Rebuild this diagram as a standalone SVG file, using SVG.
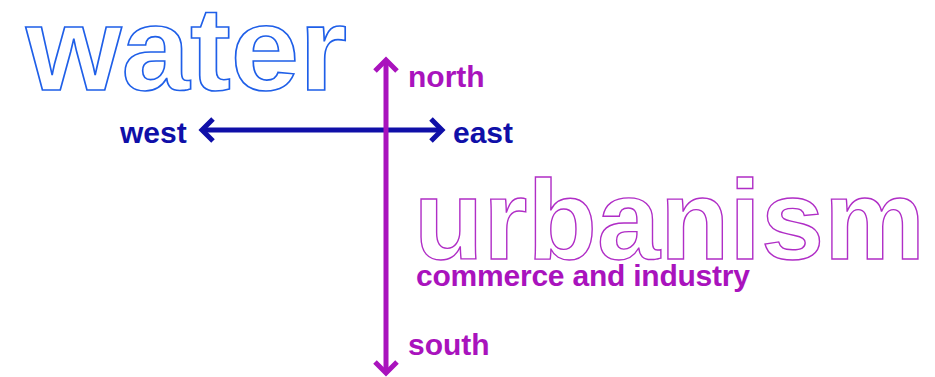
<svg xmlns="http://www.w3.org/2000/svg" width="935" height="377" viewBox="0 0 935 377">
<style>
.big{font-family:"Liberation Sans",Arial,sans-serif;font-weight:bold;fill:#fff}
.lbl{font-family:"Liberation Sans",Arial,sans-serif;font-weight:bold;font-size:30px}
.mag{fill:#a913bd}
.navy{fill:#0f0fa8}
.arrow{fill:none;stroke-width:5;stroke-linecap:butt;stroke-linejoin:miter}
</style>
<rect width="935" height="377" fill="#fff"/>
<g id="water"><text class="big" x="26" y="90" font-size="118" stroke="#1f5fe8" stroke-width="1.6" textLength="321" lengthAdjust="spacingAndGlyphs">water</text></g>
<g id="urbanism"><text class="big" x="414" y="259" font-size="114" stroke="#b02ec6" stroke-width="1.4" textLength="511" lengthAdjust="spacingAndGlyphs">urbanism</text></g>
<g id="commerce"><text class="lbl mag" x="416" y="286" textLength="334">commerce and industry</text></g>
<g id="north"><text class="lbl mag" x="408" y="87">north</text></g>
<g id="south"><text class="lbl mag" x="408" y="355">south</text></g>
<g id="west"><text class="lbl navy" x="120" y="143">west</text></g>
<g id="east"><text class="lbl navy" x="453" y="143">east</text></g>
<g id="connectors">
<g stroke="#0f0fa8" class="arrow">
<line x1="203" y1="130" x2="441" y2="130"/>
<polyline points="213,119 202,130 213,141"/>
<polyline points="431,119 442,130 431,141"/>
</g>
<g stroke="#a913bd" class="arrow">
<line x1="386" y1="60" x2="386" y2="372"/>
<polyline points="375,71 386,60 397,71"/>
<polyline points="375,362 386,373 397,362"/>
</g>
</g>
</svg>
